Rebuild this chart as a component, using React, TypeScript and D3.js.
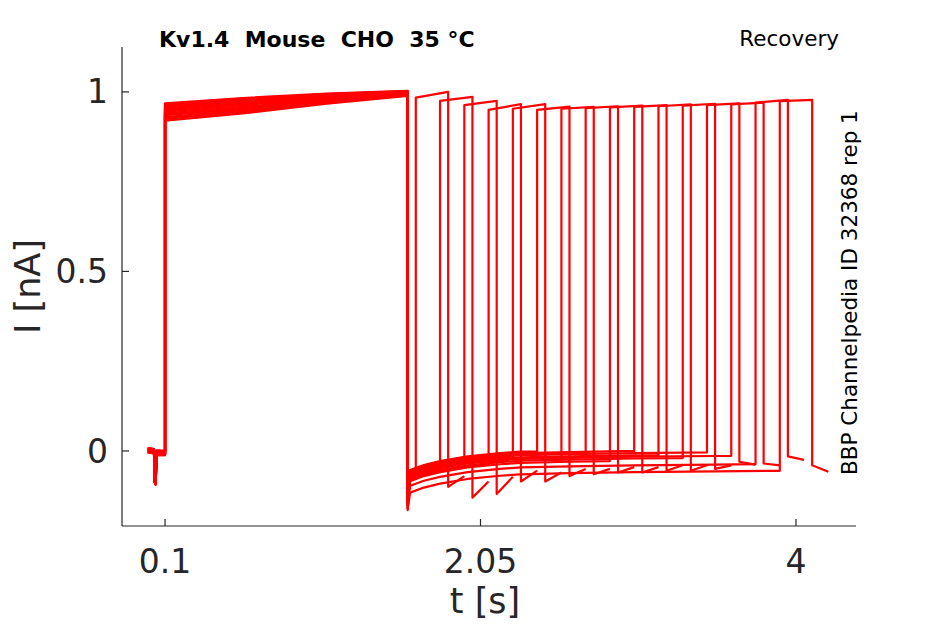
import { useEffect, useRef } from "react";
import * as d3 from "d3";

const W = 945;
const H = 624;

// ── Data (time in s, current in nA) ─────────────────────────────────────────
// 16 sweeps of the recovery protocol

// holding baseline before the first step (shared shape)
const PRE_T = [-0.007, 0.032, 0.034, 0.042, 0.048, 0.1];
const PRE_V = [0.002, -0.001, -0.08, -0.088, -0.005, -0.006];
const PRE_OFF = [0.004, -0.003, 0.006, -0.006, 0.001, 0.005, -0.002, 0.003,
  -0.005, 0.002, 0.0, -0.004, 0.006, -0.001, -0.006, 0.003];

// first (conditioning) pulse
const P1_T = [0.1, 0.58, 1.1, 1.6];
const P1_V = [
  [0.962, 0.978, 0.992, 1.001],
  [0.925, 0.944, 0.970, 0.991],
  [0.950, 0.970, 0.986, 0.998],
  [0.935, 0.952, 0.976, 0.994],
  [0.968, 0.983, 0.995, 1.003],
  [0.930, 0.948, 0.973, 0.992],
  [0.955, 0.973, 0.988, 0.999],
  [0.920, 0.940, 0.967, 0.989],
  [0.945, 0.963, 0.982, 0.997],
  [0.940, 0.958, 0.979, 0.995],
  [0.958, 0.976, 0.990, 1.000],
  [0.928, 0.946, 0.971, 0.991],
  [0.965, 0.981, 0.994, 1.002],
  [0.948, 0.966, 0.984, 0.997],
  [0.938, 0.955, 0.978, 0.994],
  [0.952, 0.968, 0.985, 0.998],
];

// tail current right after the first pulse ends
const DROP_MIN = [-0.12, -0.16, -0.11, -0.14, -0.13, -0.165, -0.10, -0.15,
  -0.12, -0.145, -0.105, -0.135, -0.155, -0.115, -0.14, -0.16];

// recovering baseline during the interval (band centre) + per-sweep offset
const BASE_T = [1.615, 1.70, 1.80, 1.97, 2.17, 2.30, 2.60, 3.00, 3.50, 3.95];
const BASE_V = [-0.069, -0.055, -0.044, -0.031, -0.022, -0.018, -0.015, -0.012, -0.010, -0.008];
const BASE_OFF = [0.010, -0.006, 0.014, -0.012, 0.004, 0.016, -0.002, 0.008,
  -0.015, 0.012, 0.0, -0.009, 0.006, -0.004, -0.028, -0.047];

// second (test) pulse
const RISES = [1.65, 1.80, 1.95, 2.10, 2.25, 2.40, 2.55, 2.70,
  2.85, 3.00, 3.15, 3.30, 3.45, 3.60, 3.75, 3.90];
const FALLS = [1.85, 2.00, 2.15, 2.30, 2.45, 2.60, 2.75, 2.90,
  3.05, 3.20, 3.35, 3.50, 3.65, 3.80, 3.95, 4.10];
const ENDS = [1.95, 2.10, 2.25, 2.40, 2.55, 2.70, 2.85, 3.00,
  3.15, 3.30, 3.45, 3.60, 3.75, 3.90, 4.05, 4.20];
const P2_START = [0.984, 0.975, 0.963, 0.950, 0.953, 0.950, 0.953, 0.955,
  0.957, 0.958, 0.960, 0.962, 0.963, 0.965, 0.970, 0.974];
const P2_END = [1.000, 0.986, 0.975, 0.966, 0.966, 0.959, 0.958, 0.960,
  0.962, 0.963, 0.965, 0.967, 0.968, 0.970, 0.978, 0.978];
const TAIL_START = [-0.10, -0.13, -0.12, -0.085, -0.085, -0.07, -0.065, -0.06,
  -0.06, -0.055, -0.055, -0.05, -0.03, -0.035, -0.015, -0.04];
const TAIL_END = [-0.07, -0.085, -0.072, -0.055, -0.06, -0.05, -0.05, -0.045,
  -0.045, -0.04, -0.04, -0.04, -0.038, -0.04, -0.025, -0.058];

const X_TICKS = [0.1, 2.05, 4];
const X_LABELS = ["0.1", "2.05", "4"];
const Y_TICKS = [0, 0.5, 1];
const Y_LABELS = ["0", "0.5", "1"];

const TITLE = "Kv1.4  Mouse  CHO  35 °C";
const PROTOCOL = "Recovery";
const SOURCE = "BBP Channelpedia ID 32368 rep 1";

const FONT = "'DejaVu Sans', sans-serif";
const AXIS = "#262626";

function tracePoints(k: number): [number, number][] {
  const pts: [number, number][] = [];
  PRE_T.forEach((t, i) => pts.push([t, PRE_V[i] + PRE_OFF[k]]));
  P1_T.forEach((t, i) => pts.push([t, P1_V[k][i]]));
  pts.push([P1_T[P1_T.length - 1], DROP_MIN[k]]);
  const base = d3.scaleLinear(BASE_T, BASE_V).clamp(true);
  BASE_T.filter((t) => t < RISES[k]).forEach((t) => pts.push([t, base(t) + BASE_OFF[k]]));
  pts.push([RISES[k], base(RISES[k]) + BASE_OFF[k]]);
  pts.push([RISES[k], P2_START[k]]);
  pts.push([FALLS[k], P2_END[k]]);
  pts.push([FALLS[k], TAIL_START[k]]);
  pts.push([ENDS[k], TAIL_END[k]]);
  return pts;
}

export default function App() {
  const svgRef = useRef<SVGSVGElement>(null);

  useEffect(() => {
    const svg = d3.select(svgRef.current);
    svg.selectAll("*").remove();

    const left = 122, right = 856, top = 47, bottom = 526;
    const x = d3.scaleLinear().domain([-0.166, 4.371]).range([left, right]);
    const y = d3.scaleLinear().domain([-0.209, 1.125]).range([bottom, top]);

    // ── traces ────────────────────────────────────────────────────────────
    const line = d3.line<[number, number]>().x((d) => x(d[0])).y((d) => y(d[1]));
    const g = svg.append("g");
    RISES.forEach((_, k) => {
      g.append("path")
        .attr("d", line(tracePoints(k)) ?? "")
        .attr("fill", "none")
        .attr("stroke", "#ff0000")
        .attr("stroke-width", 2.2)
        .attr("stroke-linejoin", "round");
    });

    // ── axes ──────────────────────────────────────────────────────────────
    const ax = svg.append("g").attr("stroke", AXIS).attr("stroke-width", 1.2);
    ax.append("line").attr("x1", left).attr("x2", left).attr("y1", top).attr("y2", bottom);
    ax.append("line").attr("x1", left).attr("x2", right).attr("y1", bottom).attr("y2", bottom);
    X_TICKS.forEach((t) => {
      ax.append("line").attr("x1", x(t)).attr("x2", x(t)).attr("y1", bottom).attr("y2", bottom - 7);
    });
    Y_TICKS.forEach((v) => {
      ax.append("line").attr("x1", left).attr("x2", left + 7).attr("y1", y(v)).attr("y2", y(v));
    });

    const txt = svg.append("g").attr("font-family", FONT).attr("fill", AXIS);
    X_TICKS.forEach((t, i) => {
      txt.append("text")
        .attr("x", x(t)).attr("y", bottom + 47)
        .attr("text-anchor", "middle").attr("font-size", 33)
        .text(X_LABELS[i]);
    });
    Y_TICKS.forEach((v, i) => {
      txt.append("text")
        .attr("x", left - 14).attr("y", y(v)).attr("dy", "0.35em")
        .attr("text-anchor", "end").attr("font-size", 33)
        .text(Y_LABELS[i]);
    });
    txt.append("text")
      .attr("x", 485).attr("y", 613)
      .attr("text-anchor", "middle").attr("font-size", 35)
      .text("t [s]");
    txt.append("text")
      .attr("transform", `translate(40,${(top + bottom) / 2}) rotate(-90)`)
      .attr("text-anchor", "middle").attr("font-size", 35)
      .text("I [nA]");

    // ── annotations ───────────────────────────────────────────────────────
    const ann = svg.append("g").attr("font-family", FONT).attr("fill", "#000");
    ann.append("text")
      .attr("x", 159).attr("y", 47)
      .attr("font-size", 22).attr("font-weight", "bold")
      .style("white-space", "pre")
      .text(TITLE);
    ann.append("text")
      .attr("x", 839).attr("y", 46)
      .attr("text-anchor", "end").attr("font-size", 21.5)
      .text(PROTOCOL);
    ann.append("text")
      .attr("transform", "translate(857,475) rotate(-90)")
      .attr("font-size", 21.5)
      .text(SOURCE);
  }, []);

  return (
    <svg
      ref={svgRef}
      width={W}
      height={H}
      style={{ position: "absolute", left: 0, top: 0, background: "#fff" }}
    />
  );
}
